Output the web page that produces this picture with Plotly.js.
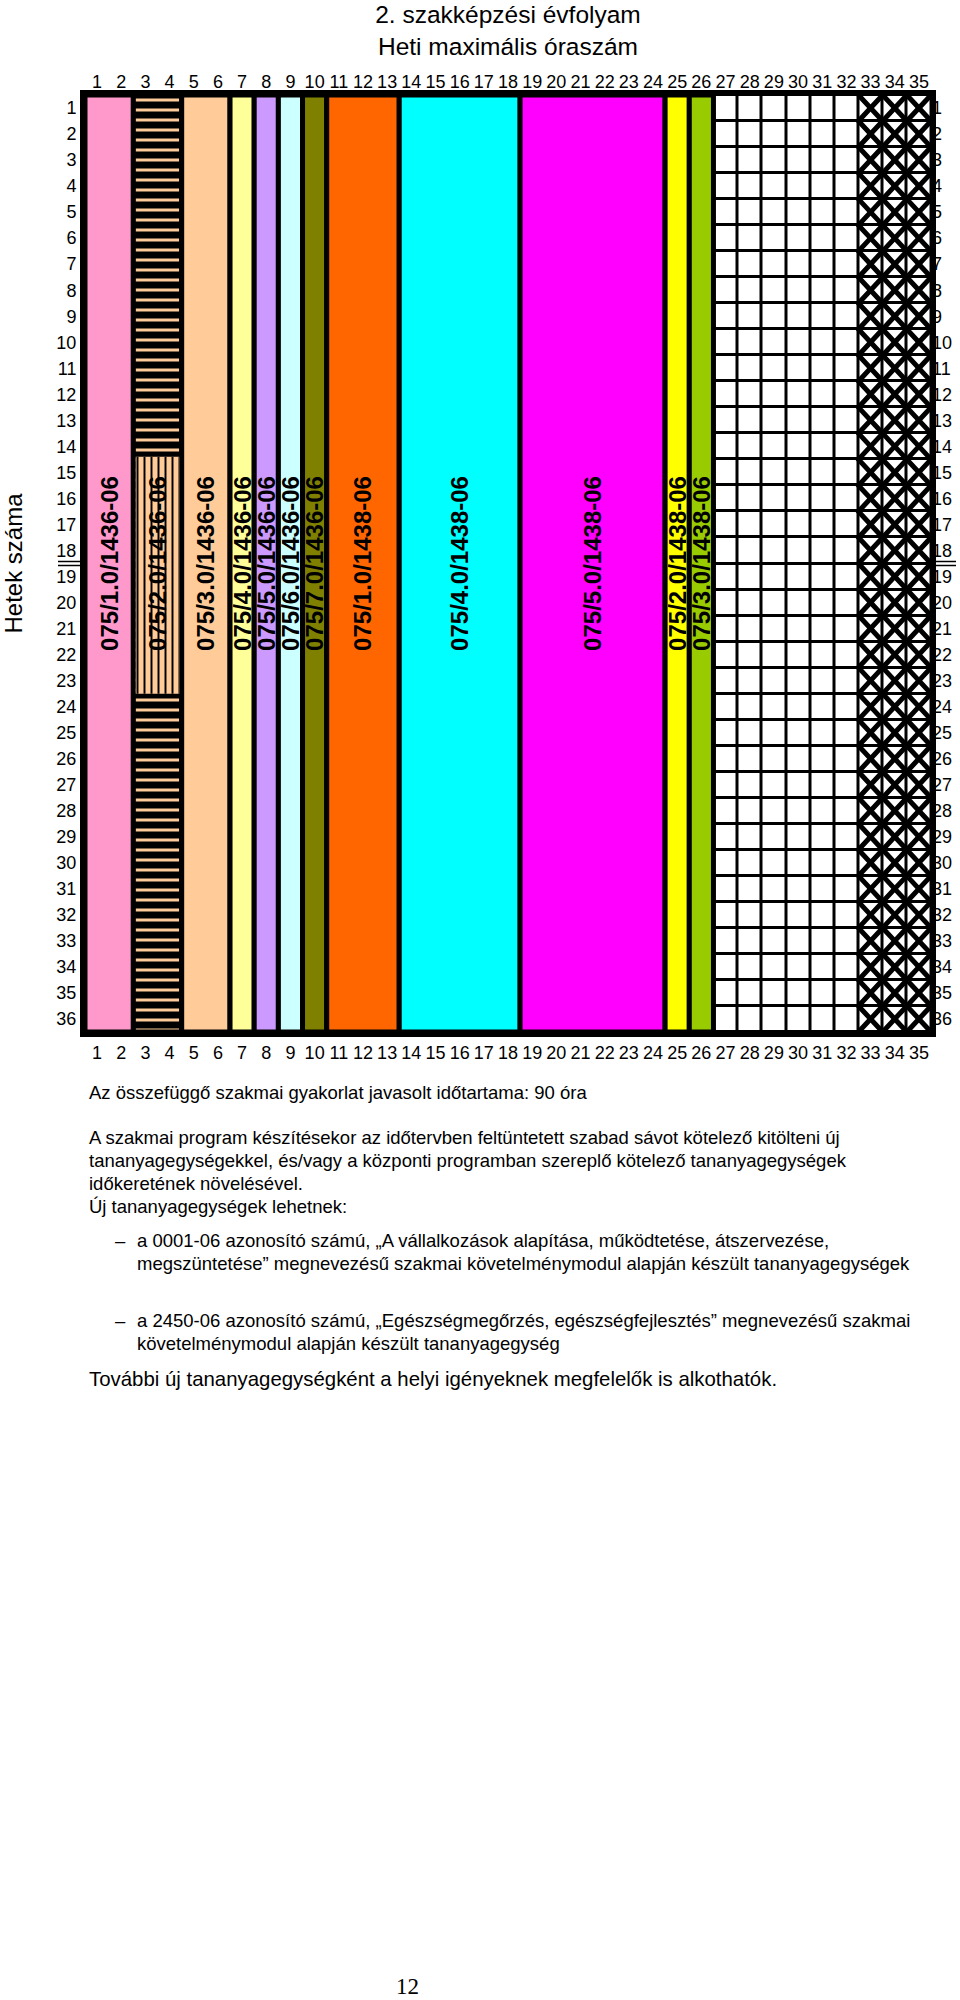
<!DOCTYPE html>
<html>
<head>
<meta charset="utf-8">
<script src="https://cdn.plot.ly/plotly-3.0.1.min.js"></script>
<style>body{margin:0;background:#fff;}</style>
</head>
<body>
<div id="chart" style="width:960px;height:2000px;"></div>
<script>
// ---- data ----
const moduleLabels = ["075/1.0/1436-06","075/2.0/1436-06","075/3.0/1436-06","075/4.0/1436-06",
  "075/5.0/1436-06","075/6.0/1436-06","075/7.0/1436-06","075/1.0/1438-06",
  "075/4.0/1438-06","075/5.0/1438-06","075/2.0/1438-06","075/3.0/1438-06"];
const moduleFirstHour = [1,3,5,7,8,9,10,11,14,19,25,26];
const moduleHours = [2,2,2,1,1,1,1,3,5,6,1,1];
const moduleColors = ["#FF99CC","#FFCC99","#FFCC99","#FFFF99","#CC99FF","#CCFFFF","#808000",
  "#FF6600","#00FFFF","#FF00FF","#FFFF00","#99CC00"];
const modulePatterns = ["","-","","","","","","","","","",""];
const freeHours = [27,28,29,30,31,32];
const blockedHours = [33,34,35];
const hourTicks = [1,2,3,4,5,6,7,8,9,10,11,12,13,14,15,16,17,18,19,20,21,22,23,24,25,26,27,28,29,30,31,32,33,34,35];
const weekTicks = [1,2,3,4,5,6,7,8,9,10,11,12,13,14,15,16,17,18,19,20,21,22,23,24,25,26,27,28,29,30,31,32,33,34,35,36];
const semesterBreak = 18.5;
const hatchWeeks = [14.4, 23.5];  // vertical hatch band on module 2

// ---- layout geometry ----
const W = 960, H = 2000;
const mL = 85, mR = 29, mT = 95, mB = 968;
const pW = W - mL - mR, pH = H - mT - mB;
const px2x = p => (p - mL) / pW;
const py2y = p => (H - mB - p) / pH;
const FONT = "Liberation Sans, Arial, sans-serif";

const nWeeks = weekTicks.length;
const xLo = hourTicks[0] - 0.5, xHi = hourTicks[hourTicks.length-1] + 0.5;
const yLo = weekTicks[0] - 0.5, yHi = weekTicks[nWeeks-1] + 0.5;
const modX = moduleFirstHour.map((s,i) => s + (moduleHours[i]-1)/2);
const TRANSP = "rgba(0,0,0,0)";

// modules as bars
const modBar = {
  type: "bar",
  x: modX, width: moduleHours,
  base: moduleFirstHour.map(() => yLo),
  y: moduleFirstHour.map(() => nWeeks),
  marker: {
    color: moduleColors,
    line: {color: "black", width: 5},
    pattern: {shape: modulePatterns, fgcolor: "black", bgcolor: moduleColors, size: 10, solidity: 0.3, fillmode: "replace"}
  },
  hoverinfo: "skip", showlegend: false
};

// band on module 2 without horizontal hatch
const bandBase = {
  type: "bar",
  x: [modX[1]], width: [moduleHours[1] - 0.2],
  base: [hatchWeeks[0]], y: [hatchWeeks[1] - hatchWeeks[0]],
  marker: {color: moduleColors[1], line: {width: 0}},
  hoverinfo: "skip", showlegend: false
};

// module labels
const labelBar = {
  type: "bar",
  x: modX, width: moduleHours,
  base: moduleFirstHour.map(() => yLo),
  y: moduleFirstHour.map(() => nWeeks),
  text: moduleLabels,
  textposition: "inside",
  insidetextanchor: "middle",
  textangle: -90,
  constraintext: "none",
  textfont: {family: FONT, size: 24, color: "black", weight: "bold"},
  marker: {color: TRANSP, line: {width: 0}},
  hoverinfo: "skip", showlegend: false
};

// vertical hatch drawn over the module 2 label
const bandStripes = {
  type: "bar",
  x: [modX[1]], width: [moduleHours[1] - 0.2],
  base: [hatchWeeks[0]], y: [hatchWeeks[1] - hatchWeeks[0]],
  marker: {
    color: TRANSP, line: {width: 0},
    pattern: {shape: "|", fgcolor: "black", bgcolor: TRANSP, size: 7, solidity: 0.28, fillmode: "replace"}
  },
  hoverinfo: "skip", showlegend: false
};

// free (empty) cells grid
const gridCols = freeHours.concat(blockedHours);
const grid = {
  type: "heatmap",
  x: gridCols, y: weekTicks,
  z: weekTicks.map(() => gridCols.map(() => 1)),
  colorscale: [[0,"#ffffff"],[1,"#ffffff"]],
  showscale: false,
  xgap: 3, ygap: 3,
  hoverinfo: "skip"
};

// crosses in blocked cells
const cx = [], cy = [];
const yEdges = [yLo].concat(weekTicks.map(w => w + 0.5));
blockedHours.forEach(c => {
  [0,1].forEach(phase => {
    yEdges.forEach((ye, k) => {
      cx.push(((k + phase) % 2 === 0) ? c - 0.5 : c + 0.5);
      cy.push(ye);
    });
    cx.push(null); cy.push(null);
  });
});
const crosses = {
  type: "scatter", mode: "lines", x: cx, y: cy,
  line: {color: "black", width: 5},
  hoverinfo: "skip", showlegend: false
};

// dummy on top/right axes so they render
const dummy = {type: "scatter", mode: "markers", x: [hourTicks[0]], y: [weekTicks[0]],
  xaxis: "x2", yaxis: "y2", marker: {opacity: 0}, hoverinfo: "skip", showlegend: false};

const tickFont = {family: FONT, size: 18, color: "black"};
const axX = {range: [xLo, xHi], tickmode: "array", tickvals: hourTicks, ticktext: hourTicks.map(String),
  showgrid: false, zeroline: false, ticks: "", tickfont: tickFont, fixedrange: true};
const axY = {range: [yHi, yLo], tickmode: "array", tickvals: weekTicks, ticktext: weekTicks.map(String),
  showgrid: false, zeroline: false, ticks: "", tickfont: tickFont, fixedrange: true};

const textLines = [
  {t: "Az összefüggő szakmai gyakorlat javasolt időtartama: 90 óra", x: 88, y: 1092, s: 18.5},
  {t: "A szakmai program készítésekor az időtervben feltüntetett szabad sávot kötelező kitölteni új", x: 88, y: 1137, s: 18.5},
  {t: "tananyagegységekkel, és/vagy a központi programban szereplő kötelező tananyagegységek", x: 88, y: 1160, s: 18.5},
  {t: "időkeretének növelésével.", x: 88, y: 1183, s: 18.5},
  {t: "Új tananyagegységek lehetnek:", x: 88, y: 1206, s: 18.5},
  {t: "–", x: 114, y: 1240, s: 18.5},
  {t: "a 0001-06 azonosító számú, „A vállalkozások alapítása, működtetése, átszervezése,", x: 136, y: 1240, s: 18.5},
  {t: "megszüntetése” megnevezésű szakmai követelménymodul alapján készült tananyagegységek", x: 136, y: 1263, s: 18.5},
  {t: "–", x: 114, y: 1320, s: 18.5},
  {t: "a 2450-06 azonosító számú, „Egészségmegőrzés, egészségfejlesztés” megnevezésű szakmai", x: 136, y: 1320, s: 18.5},
  {t: "követelménymodul alapján készült tananyagegység", x: 136, y: 1343, s: 18.5},
  {t: "További új tananyagegységként a helyi igényeknek megfelelők is alkothatók.", x: 88, y: 1379, s: 20.4}
];

const annotations = textLines.map(L => ({
  text: L.t, xref: "paper", yref: "paper", x: px2x(L.x), y: py2y(L.y),
  xanchor: "left", yanchor: "middle", showarrow: false, borderpad: 0,
  font: {family: FONT, size: L.s, color: "black"}
}));
const breakY = (yHi - semesterBreak)/(yHi - yLo);
annotations.push({
  text: "Hetek száma", xref: "paper", yref: "paper", x: px2x(13), y: breakY,
  xanchor: "center", yanchor: "middle", textangle: -90, showarrow: false, borderpad: 0,
  font: {family: FONT, size: 24, color: "black"}
});
annotations.push({
  text: "12", xref: "paper", yref: "paper", x: px2x(407), y: py2y(1986),
  xanchor: "center", yanchor: "middle", showarrow: false,
  font: {family: "Liberation Serif, Times New Roman, serif", size: 23, color: "black"}
});

const shapes = [];
[[58,80],[934,956]].forEach(([a,b]) => {
  [-2,2].forEach(d => shapes.push({type: "line", xref: "paper", yref: "paper",
    x0: px2x(a), x1: px2x(b), y0: breakY + d/pH, y1: breakY + d/pH,
    line: {color: "black", width: 1.5}}));
});

const layout = {
  width: W, height: H,
  margin: {l: mL, r: mR, t: mT, b: mB},
  paper_bgcolor: "white", plot_bgcolor: "black",
  barmode: "overlay",
  title: {text: "2. szakképzési évfolyam<br>Heti maximális óraszám", xref: "paper", x: 0.5, xanchor: "center",
    yref: "container", y: 1 - 23/H, yanchor: "middle", font: {family: FONT, size: 24.5, color: "black"}},
  xaxis: Object.assign({}, axX, {showline: true, mirror: true, linewidth: 5, linecolor: "black"}),
  yaxis: Object.assign({}, axY, {showline: true, mirror: true, linewidth: 5, linecolor: "black"}),
  xaxis2: Object.assign({}, axX, {overlaying: "x", side: "top", anchor: "y2", ticklabelstandoff: 2}),
  yaxis2: Object.assign({}, axY, {overlaying: "y", side: "right", anchor: "x2"}),
  annotations: annotations,
  shapes: shapes,
  showlegend: false
};

Plotly.newPlot("chart", [grid, modBar, bandBase, labelBar, bandStripes, crosses, dummy], layout, {staticPlot: true, displayModeBar: false});
</script>
</body>
</html>
